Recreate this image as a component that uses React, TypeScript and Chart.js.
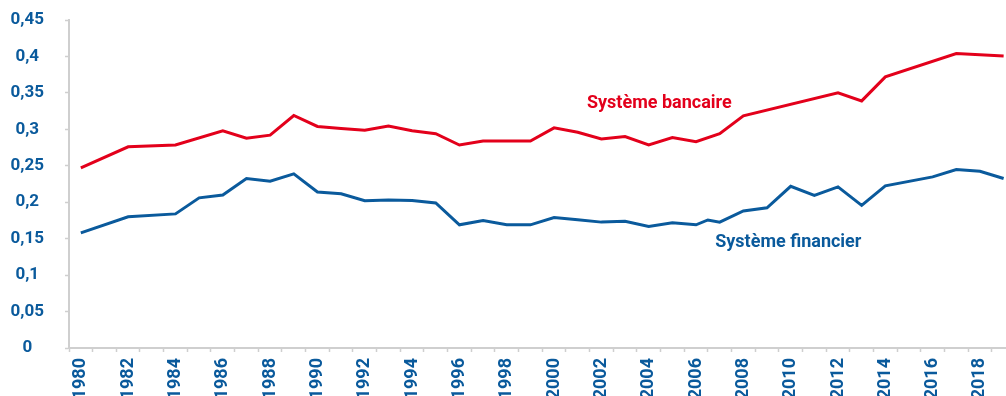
import { useEffect, useRef } from 'react';
import { Chart, registerables } from 'chart.js';

Chart.register(...registerables);

// Years on the horizontal axis
const years = [
  1980, 1981, 1982, 1983, 1984, 1985, 1986, 1987, 1988, 1989,
  1990, 1991, 1992, 1993, 1994, 1995, 1996, 1997, 1998, 1999,
  2000, 2001, 2002, 2003, 2004, 2005, 2006, 2007, 2008, 2009,
  2010, 2011, 2012, 2013, 2014, 2015, 2016, 2017, 2018, 2019,
];

// Système bancaire (null = no observation, the line spans the gap)
const bancaire = [
  0.247, null, 0.276, null, 0.2785, null, 0.298, 0.2877, 0.292, 0.319,
  0.304, 0.301, 0.2987, 0.3047, 0.298, 0.294, 0.2785, 0.284, 0.284, 0.284,
  0.302, 0.296, 0.2868, 0.29, 0.2785, 0.2887, 0.283, 0.294, 0.3185, null,
  null, null, 0.35, 0.339, 0.372, null, null, 0.404, null, 0.4005,
];

// Système financier
const financier = [
  0.158, null, 0.18, null, 0.184, 0.206, 0.21, 0.2325, 0.2287, 0.239,
  0.214, 0.2117, 0.202, 0.203, 0.2025, 0.199, 0.169, 0.175, 0.169, 0.169,
  0.179, 0.176, 0.1727, 0.174, 0.1666, 0.1717, 0.169, 0.1727, 0.188, 0.1924,
  0.2218, 0.2094, 0.221, 0.1956, 0.2224, null, 0.2348, 0.2449, 0.2425, 0.2325,
];

// Mid-year observation of the financial-system series
const financierExtraYears = [2006.5];
const financierExtraValues = [0.1757];

// Axis ticks
const yTickValues = [0, 0.05, 0.1, 0.15, 0.2, 0.25, 0.3, 0.35, 0.4, 0.45];
const xLabelYears = [
  1980, 1982, 1984, 1986, 1988, 1990, 1992, 1994, 1996, 1998,
  2000, 2002, 2004, 2006, 2008, 2010, 2012, 2014, 2016, 2018,
];

const seriesNames = ['Système bancaire', 'Système financier'];

const RED = '#e3001b';
const BLUE = '#0a5a9c';
const AXIS_GREY = '#cfcfcf';
const FONT = 'Roboto, "Noto Sans", sans-serif';

const toPoints = (vals: (number | null)[]) =>
  years.map((x, i) => ({ x, y: vals[i] }));

const fmt = (v: number) => {
  const s = (Math.round(v * 100) / 100).toString();
  return s.replace('.', ',');
};

// Series names written next to their lines
const seriesLabelPlugin = {
  id: 'seriesLabels',
  afterDatasetsDraw(chart: any) {
    const { ctx, scales } = chart;
    const xs = scales.x;
    const ys = scales.y;
    const items = [
      { text: seriesNames[0], x: 2004.45, y: 0.336, color: RED },
      { text: seriesNames[1], x: 2009.9, y: 0.145, color: BLUE },
    ];
    ctx.save();
    ctx.font = `bold 18px ${FONT}`;
    ctx.textAlign = 'center';
    ctx.textBaseline = 'middle';
    for (const it of items) {
      ctx.fillStyle = it.color;
      ctx.fillText(it.text, xs.getPixelForValue(it.x), ys.getPixelForValue(it.y));
    }
    ctx.restore();
  },
};

export default function App() {
  const canvasRef = useRef<HTMLCanvasElement | null>(null);

  useEffect(() => {
    if (!canvasRef.current) return;

    const financierPoints = [
      ...toPoints(financier),
      ...financierExtraYears.map((x, i) => ({ x, y: financierExtraValues[i] })),
    ].sort((a, b) => a.x - b.x);

    const chart = new Chart(canvasRef.current, {
      type: 'line',
      data: {
        datasets: [
          {
            label: seriesNames[0],
            data: toPoints(bancaire),
            borderColor: RED,
            backgroundColor: RED,
            borderWidth: 3,
            pointRadius: 0,
            tension: 0,
            spanGaps: true,
          },
          {
            label: seriesNames[1],
            data: financierPoints,
            borderColor: BLUE,
            backgroundColor: BLUE,
            borderWidth: 3,
            pointRadius: 0,
            tension: 0,
            spanGaps: true,
          },
        ],
      },
      options: {
        animation: false,
        responsive: true,
        maintainAspectRatio: false,
        layout: { padding: { top: 20, left: 0, right: 0, bottom: 0 } },
        plugins: {
          legend: { display: false },
          tooltip: { enabled: false },
        },
        scales: {
          x: {
            type: 'linear',
            min: 1979.5,
            max: 2019.1,
            afterBuildTicks: (scale: any) => {
              const t: { value: number }[] = [];
              for (let v = 1979.5; v <= scale.max; v += 0.5) t.push({ value: v });
              scale.ticks = t;
            },
            afterFit: (scale: any) => {
              scale.height = 48;
              scale.paddingLeft = 0;
              scale.paddingRight = 0;
            },
            ticks: {
              autoSkip: false,
              minRotation: 90,
              maxRotation: 90,
              padding: 6,
              color: BLUE,
              font: { family: FONT, weight: 'bold', size: 18 },
              callback: (v: any) => (xLabelYears.includes(Number(v)) ? String(v) : ''),
            },
            grid: {
              drawOnChartArea: false,
              drawTicks: true,
              tickLength: 4,
              tickWidth: 1.5,
              tickColor: (ctx: any) =>
                Number.isInteger(ctx.tick?.value) ? 'rgba(0,0,0,0)' : AXIS_GREY,
            },
            border: { display: true, color: AXIS_GREY, width: 2 },
          },
          y: {
            type: 'linear',
            min: 0,
            max: 0.45,
            afterBuildTicks: (scale: any) => {
              scale.ticks = yTickValues.map((value) => ({ value }));
            },
            afterFit: (scale: any) => {
              scale.width = 69;
              scale.paddingTop = 0;
              scale.paddingBottom = 0;
            },
            ticks: {
              padding: 21,
              crossAlign: 'center',
              color: BLUE,
              font: { family: FONT, weight: 'bold', size: 17 },
              callback: (v: any) => fmt(Number(v)),
            },
            grid: {
              drawOnChartArea: false,
              drawTicks: true,
              tickLength: 4,
              tickWidth: 1.5,
              tickColor: AXIS_GREY,
            },
            border: { display: true, color: AXIS_GREY, width: 2 },
          },
        },
      },
      plugins: [seriesLabelPlugin],
    } as any);

    return () => chart.destroy();
  }, []);

  return (
    <div
      style={{
        position: 'absolute',
        left: 0,
        top: 0,
        width: 1006,
        height: 396,
        background: '#ffffff',
      }}
    >
      <canvas ref={canvasRef} style={{ width: '100%', height: '100%' }} />
    </div>
  );
}
